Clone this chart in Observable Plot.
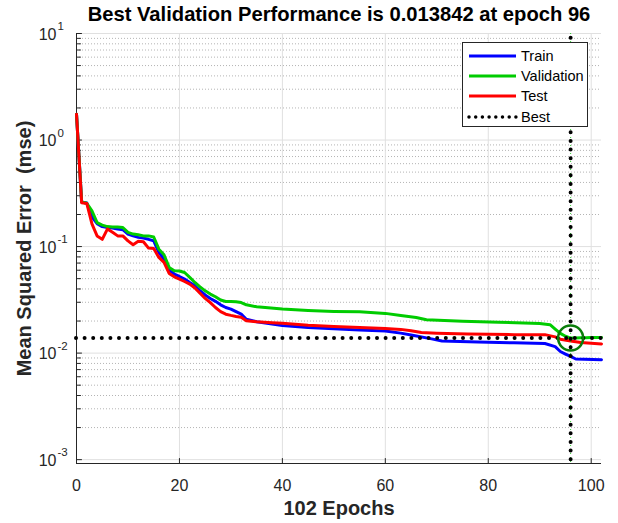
<!DOCTYPE html>
<html><head><meta charset="utf-8">
<script src="https://cdn.jsdelivr.net/npm/d3@7"></script>
<script src="https://cdn.jsdelivr.net/npm/@observablehq/plot@0.6"></script>
<style>
body{margin:0;background:#fff;font-family:"Liberation Sans",Arial,sans-serif;}
#wrap{position:relative;width:618px;height:523px;}
#legend{position:absolute;left:462px;top:42px;width:126px;height:85px;border:1px solid #262626;background:#fff;box-sizing:border-box;}
.lg-row{position:absolute;left:4px;height:20px;display:flex;align-items:center;font-size:14.5px;color:#000;}
.lg-row svg{margin-right:3px;}
</style></head><body><div id="wrap"></div>
<script>
// ---- data ----
const trainEpochs=[0,1,2,3,4,5,6,7,8,9,10,11,12,13,14,15,16,17,18,19,20,21,22,23,24,25,26,27,28,29,30,31,32,33,35,38,40,45,50,55,60,63,65,69,71,78,85,91,93,94,95,96,97,102];
const trainMse=[1.75,0.262,0.256,0.19,0.164,0.154,0.151,0.149,0.146,0.144,0.131,0.126,0.122,0.120,0.117,0.113,0.0881,0.0764,0.0601,0.0552,0.0524,0.0495,0.046,0.0429,0.0385,0.0351,0.0326,0.0306,0.0284,0.0268,0.0259,0.0245,0.0232,0.0208,0.0197,0.0188,0.0182,0.0174,0.0169,0.0165,0.0161,0.0154,0.0148,0.0136,0.0130,0.0127,0.0125,0.0123,0.0115,0.01035,0.0098,0.0093,0.0088,0.00865];
const valEpochs=[0,1,2,3,4,5,6,7,8,9,10,11,12,13,14,15,16,17,18,19,20,21,22,23,24,25,26,27,28,29,30,31,32,33,35,40,45,50,55,60,63,66,68,75,82,90,92,93,94,95,96,97,98,99,100,101,102];
const valMse=[1.75,0.262,0.255,0.216,0.168,0.159,0.154,0.153,0.153,0.151,0.136,0.131,0.129,0.126,0.126,0.123,0.0946,0.0838,0.0637,0.0593,0.0590,0.0571,0.0513,0.046,0.0419,0.0384,0.0358,0.0338,0.0315,0.0305,0.0305,0.0303,0.0298,0.0284,0.0272,0.0259,0.0251,0.0246,0.0244,0.0236,0.0225,0.0216,0.0206,0.0199,0.0195,0.0190,0.0185,0.0168,0.0153,0.0144,0.013842,0.01388,0.01392,0.01395,0.01398,0.0140,0.01402];
const testEpochs=[0,1,2,3,4,5,6,7,8,9,10,11,12,13,14,15,16,17,18,19,20,21,22,23,24,25,26,27,28,29,30,31,32,33,35,38,40,45,50,55,60,63,65,67,70,76,85,91,93,94,96,98,100,102];
const testMse=[1.75,0.258,0.254,0.163,0.126,0.117,0.146,0.136,0.126,0.126,0.113,0.104,0.112,0.111,0.0968,0.0960,0.0791,0.0710,0.0559,0.0520,0.0495,0.047,0.0444,0.0408,0.0365,0.0326,0.0298,0.0268,0.0245,0.0232,0.0226,0.0221,0.0217,0.0201,0.0197,0.0193,0.0191,0.0183,0.0178,0.0174,0.0170,0.0167,0.0162,0.0156,0.0154,0.0151,0.0149,0.0149,0.0142,0.0135,0.0130,0.01256,0.0124,0.0122];
const bestEpoch=96, bestPerf=0.013842;
const xTicks=[0,20,40,60,80,100];
const yExponents=[-3,-2,-1,0,1];
const titleText="Best Validation Performance is 0.013842 at epoch 96";
const xLabel="102 Epochs";
const yLabel="Mean Squared Error  (mse)";
const seriesNames=["Train","Validation","Test","Best"];
const seriesColors=["#0000ff","#00cc00","#ff0000","#000000"];

// ---- build ----
const toRows=(ep,v)=>ep.map((e,i)=>({epoch:e,mse:v[i]}));
const train=toRows(trainEpochs,trainMse), val=toRows(valEpochs,valMse), test=toRows(testEpochs,testMse);
const yMin=0.00092, yMax=10, xMax=102;
const yMajor=yExponents.map(e=>Math.pow(10,e));
const yMinor=[]; for(const e of [-3,-2,-1,0]) for(let m=2;m<=9;m++) yMinor.push(m*Math.pow(10,e));
const tickShape={draw(ctx,l){ctx.moveTo(0,0);ctx.lineTo(0,-l);}};
const axisCol="#262626";
const font="Liberation Sans, Arial, sans-serif";

const chart=Plot.plot({
  width:618,height:523,marginLeft:76,marginRight:17,marginTop:33,marginBottom:60,
  x:{domain:[0,xMax],axis:null},
  y:{type:"log",domain:[yMin,yMax],axis:null},
  style:{fontFamily:font,background:"white",color:"#262626"},
  marks:[
    Plot.ruleY(yMinor,{stroke:"#b4b4b4",strokeDasharray:"1 2"}),
    Plot.ruleY(yMajor,{stroke:"#e0e0e0"}),
    Plot.ruleX(xTicks,{stroke:"#e0e0e0"}),
    Plot.ruleX([0],{stroke:axisCol}),
    Plot.ruleY([yMin],{stroke:axisCol}),
    Plot.vector(yMajor,{x:0,y:d=>d,length:5,rotate:90,anchor:"start",shape:tickShape,stroke:axisCol,strokeWidth:1}),
    Plot.vector(yMinor,{x:0,y:d=>d,length:4,rotate:90,anchor:"start",shape:tickShape,stroke:axisCol,strokeWidth:1}),
    Plot.vector(xTicks,{x:d=>d,y:yMin,length:5,rotate:0,anchor:"start",shape:tickShape,stroke:axisCol,strokeWidth:1}),
    Plot.text(xTicks,{x:d=>d,y:yMin,dy:22,text:d=>String(d),fontSize:16,fill:axisCol}),
    Plot.text(yExponents,{x:0,y:d=>Math.pow(10,d),dx:-20,dy:1,text:()=>"10",textAnchor:"end",fontSize:16,fill:axisCol}),
    Plot.text(yExponents,{x:0,y:d=>Math.pow(10,d),dx:-19,dy:-7,text:d=>String(d),textAnchor:"start",fontSize:11.5,fill:axisCol}),
    Plot.line(train,{x:"epoch",y:"mse",stroke:seriesColors[0],strokeWidth:3}),
    Plot.line(val,{x:"epoch",y:"mse",stroke:seriesColors[1],strokeWidth:3}),
    Plot.line(test,{x:"epoch",y:"mse",stroke:seriesColors[2],strokeWidth:3}),
    Plot.ruleX([bestEpoch],{stroke:"#00cc00",strokeWidth:1,strokeDasharray:"1 3",strokeOpacity:0.8}),
    Plot.ruleY([bestPerf],{stroke:"#000",strokeWidth:4,strokeDasharray:"0 8.6",strokeLinecap:"round"}),
    Plot.ruleX([bestEpoch],{y1:0.001,y2:yMax,stroke:"#000",strokeWidth:4,strokeDasharray:"0 8.6",strokeLinecap:"round"}),
    Plot.dot([{epoch:bestEpoch,mse:bestPerf}],{x:"epoch",y:"mse",r:12.5,stroke:"#0a7d0a",strokeWidth:2.5,fill:"none"}),
    Plot.text([titleText],{frameAnchor:"top",lineAnchor:"middle",textAnchor:"middle",dy:-19,fontSize:20.2,fontWeight:"bold",fill:"#000"}),
    Plot.text([xLabel],{frameAnchor:"bottom",lineAnchor:"middle",textAnchor:"middle",dy:45,fontSize:20,fontWeight:"bold",fill:axisCol}),
    Plot.text([yLabel],{frameAnchor:"left",lineAnchor:"middle",textAnchor:"middle",dx:-52,rotate:-90,fontSize:20,fontWeight:"bold",fill:axisCol})
  ]
});
const wrap=document.getElementById("wrap");
wrap.appendChild(chart);

// legend
const lg=d3.select(wrap).append("div").attr("id","legend");
const rowTops=[3,23,43,64];
seriesNames.forEach((name,i)=>{
  const row=lg.append("div").attr("class","lg-row").style("top",rowTops[i]+"px");
  const s=row.append("svg").attr("width",51).attr("height",20);
  const ln=s.append("line").attr("x1",2).attr("x2",49).attr("y1",10).attr("y2",10).attr("stroke",seriesColors[i]);
  if(name==="Best") ln.attr("stroke-width",3.5).attr("stroke-dasharray","0 6.7").attr("stroke-linecap","round");
  else ln.attr("stroke-width",3);
  row.append("span").text(name);
});
</script></body></html>
